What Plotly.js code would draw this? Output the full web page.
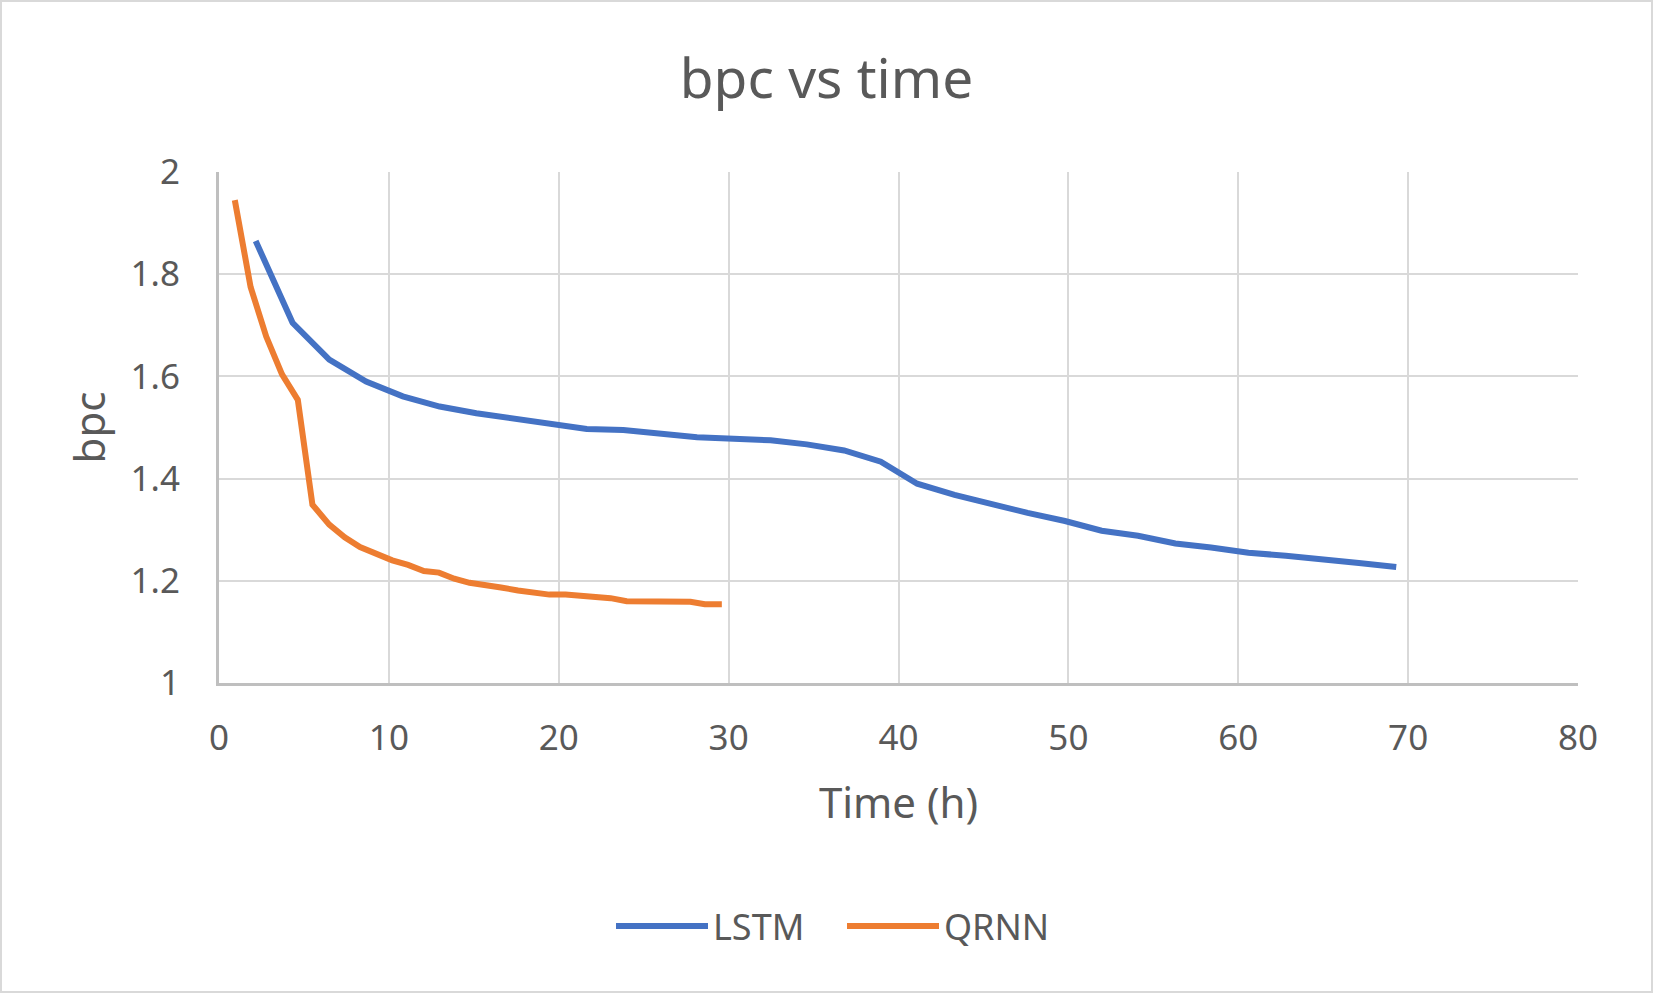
<!DOCTYPE html>
<html>
<head>
<meta charset="utf-8">
<script src="https://cdn.plot.ly/plotly-3.0.1.min.js"></script>
<style>
  html, body { margin: 0; padding: 0; background: #ffffff; }
  #chart { width: 1653px; height: 993px; box-shadow: inset 0 0 0 2px #d9d9d9; }
</style>
</head>
<body>
<div id="chart"></div>
<script>
// LSTM run: hours vs bits per character
const lstmTime = [2.16, 4.33, 6.49, 8.66, 10.82, 12.99, 15.15, 17.32, 19.48, 21.65, 23.8, 25.97,
  28.14, 30.3, 32.47, 34.6, 36.8, 38.96, 41.1, 43.3, 45.46, 47.6, 49.8, 51.96, 54.1, 56.3,
  58.4, 60.6, 62.8, 64.9, 67.1, 69.3];
const lstmBpc = [1.865, 1.705, 1.633, 1.590, 1.561, 1.541, 1.528, 1.518, 1.508, 1.497, 1.495, 1.488,
  1.481, 1.478, 1.475, 1.467, 1.455, 1.433, 1.390, 1.368, 1.349, 1.333, 1.317, 1.298, 1.288, 1.273,
  1.265, 1.255, 1.249, 1.243, 1.235, 1.227];

// QRNN run
const qrnnTime = [0.93, 1.86, 2.78, 3.71, 4.64, 5.5, 6.49, 7.4, 8.3, 9.28, 10.2, 11.13, 12.06, 12.95,
  13.85, 14.75, 15.7, 16.6, 17.6, 18.5, 19.45, 20.4, 21.2, 22.2, 23.05, 24.0, 24.95, 25.9, 26.8,
  27.75, 28.6, 29.6];
const qrnnBpc = [1.945, 1.775, 1.678, 1.604, 1.554, 1.349, 1.310, 1.285, 1.266, 1.251, 1.240, 1.231,
  1.219, 1.216, 1.204, 1.196, 1.190, 1.187, 1.181, 1.177, 1.173, 1.173, 1.171, 1.168, 1.166, 1.160,
  1.160, 1.159, 1.159, 1.159, 1.154, 1.154];

const xTicks = [0, 10, 20, 30, 40, 50, 60, 70, 80];
const yTicks = [1, 1.2, 1.4, 1.6, 1.8, 2];

const textColor = '#595959';
const font = 'Noto Sans, Open Sans, sans-serif';

const data = [
  {
    type: 'scatter', mode: 'lines', name: 'LSTM',
    x: lstmTime, y: lstmBpc,
    line: { color: '#4472C4', width: 6 }
  },
  {
    type: 'scatter', mode: 'lines', name: 'QRNN',
    x: qrnnTime, y: qrnnBpc,
    line: { color: '#ED7D31', width: 6 }
  }
];

const layout = {
  width: 1653,
  height: 993,
  margin: { l: 219, r: 75, t: 172, b: 310 },
  paper_bgcolor: 'rgba(0,0,0,0)',
  plot_bgcolor: '#ffffff',
  font: { family: font, color: textColor, size: 35 },
  title: {
    text: 'bpc vs time',
    font: { size: 55, color: textColor },
    x: 0.5, xref: 'container', xanchor: 'center',
    y: 1 - 79 / 993, yref: 'container', yanchor: 'middle'
  },
  xaxis: {
    range: [0, 80],
    tickvals: xTicks,
    ticktext: xTicks.map(String),
    showgrid: true, gridcolor: '#d9d9d9', gridwidth: 2,
    showline: true, linecolor: '#bfbfbf', linewidth: 3,
    zeroline: false, ticks: '',
    ticklabelstandoff: 22,
    tickfont: { size: 35 },
    title: { text: 'Time (h)', font: { size: 42 }, standoff: 30 },
    automargin: false
  },
  yaxis: {
    range: [1, 2],
    tickvals: yTicks,
    ticktext: yTicks.map(v => String(v)),
    showgrid: true, gridcolor: '#d9d9d9', gridwidth: 2,
    showline: true, linecolor: '#bfbfbf', linewidth: 3,
    zeroline: false, ticks: '',
    ticklabelstandoff: 29,
    tickfont: { size: 35 },
    title: { text: 'bpc', font: { size: 42 }, standoff: 12 },
    automargin: false
  },
  showlegend: true,
  legend: {
    orientation: 'h',
    xref: 'container', x: 611 / 1653, xanchor: 'left',
    yref: 'container', y: 1 - 926 / 993, yanchor: 'middle',
    font: { size: 36 },
    itemwidth: 92,
    entrywidth: 124, entrywidthmode: 'pixels',
    traceorder: 'normal'
  }
};

Plotly.newPlot('chart', data, layout, { displayModeBar: false, staticPlot: true });
</script>
</body>
</html>
